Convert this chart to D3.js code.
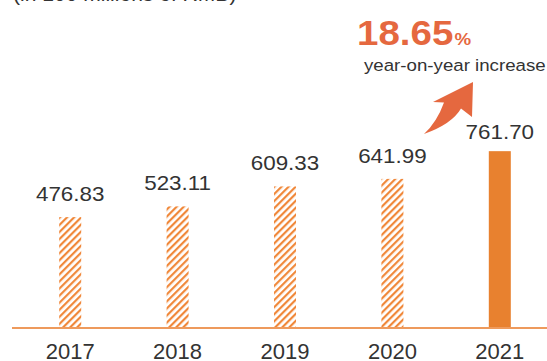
<!DOCTYPE html>
<html>
<head>
<meta charset="utf-8">
<script src="https://cdn.jsdelivr.net/npm/d3@7"></script>
<style>
  html, body { margin: 0; padding: 0; background: #fff; }
  svg { display: block; font-family: "Liberation Sans", Arial, Helvetica, sans-serif; }
</style>
</head>
<body>
<svg id="chart" width="547" height="361"></svg>
<script>
// Revenue by year (in 100 millions of RMB)
const years = ["2017", "2018", "2019", "2020", "2021"];
const values = [476.83, 523.11, 609.33, 641.99, 761.70];
const valueLabels = ["476.83", "523.11", "609.33", "641.99", "761.70"];
const highlightYear = "2021";
const growthPct = "18.65";
const growthText = "year-on-year increase";
const unitTitle = "(in 100 millions of RMB)";

const W = 547, H = 361;
const baseY = 327.5;
const orange = "#e8812f";
const hatchColor = "#f0883a";
const accent = "#e5683f";
const textColor = "#333333";

const svg = d3.select("#chart");

// diagonal hatch for the earlier years
const defs = svg.append("defs");
const pat = defs.append("pattern")
  .attr("id", "hatch")
  .attr("patternUnits", "userSpaceOnUse")
  .attr("width", 5).attr("height", 5)
  .attr("patternTransform", "rotate(45)");
pat.append("rect").attr("width", 5).attr("height", 5).attr("fill", "#fff");
pat.append("rect").attr("x", 0).attr("y", 0).attr("width", 2.2).attr("height", 5).attr("fill", hatchColor);

const x = d3.scaleBand().domain(years).range([16.5, 553.5]).padding(0);
const y = d3.scaleLinear().domain([0, 800]).range([baseY, baseY - 800 * 0.2315]);
const barW = 22;

// text helper: slightly widened glyphs
function label(sel, tx, ty, sx) {
  return sel.attr("transform", `translate(${tx},${ty}) scale(${sx},1)`);
}

// unit title (partly above the top edge)
label(svg.append("text"), 13, 0.5, 1.08)
  .attr("font-size", 19.5).attr("fill", textColor)
  .text(unitTitle);

// bars
svg.selectAll("rect.bar")
  .data(years)
  .join("rect")
  .attr("class", "bar")
  .attr("x", d => x(d) + x.bandwidth() / 2 - barW / 2)
  .attr("width", barW)
  .attr("y", (d, i) => y(values[i]))
  .attr("height", (d, i) => baseY - y(values[i]))
  .attr("fill", d => d === highlightYear ? orange : "url(#hatch)");

// baseline
svg.append("line")
  .attr("x1", 12).attr("x2", W)
  .attr("y1", baseY + 0.5).attr("y2", baseY + 0.5)
  .attr("stroke", "#ee9a5c").attr("stroke-width", 2);

// value labels
svg.selectAll("text.val")
  .data(years)
  .join("text")
  .attr("class", "val")
  .attr("text-anchor", "middle")
  .attr("font-size", 20)
  .attr("fill", textColor)
  .attr("transform", (d, i) => {
    const off = d === highlightYear ? 12 : 16;
    return `translate(${x(d) + x.bandwidth() / 2},${y(values[i]) - off}) scale(1.12,1)`;
  })
  .text((d, i) => valueLabels[i]);

// year labels
svg.selectAll("text.year")
  .data(years)
  .join("text")
  .attr("class", "year")
  .attr("text-anchor", "middle")
  .attr("font-size", 22)
  .attr("fill", textColor)
  .attr("x", d => x(d) + x.bandwidth() / 2)
  .attr("y", 358.5)
  .text(d => d);

// growth callout
const g = label(svg.append("text"), 357, 45, 1.1)
  .attr("font-weight", "bold").attr("fill", accent);
g.append("tspan").attr("font-size", 35).text(growthPct);
g.append("tspan").attr("font-size", 17).attr("dx", 1).text("%");

label(svg.append("text"), 364, 70.7, 1.08)
  .attr("font-size", 17.3).attr("fill", textColor)
  .text(growthText);

// curved arrow
const p = d3.path();
p.moveTo(473, 82);
p.lineTo(433, 102);
p.lineTo(444, 102.5);
p.quadraticCurveTo(437, 122, 424, 134);
p.quadraticCurveTo(452, 124, 461, 108.5);
p.lineTo(472, 117);
p.closePath();
svg.append("path").attr("d", p.toString()).attr("fill", accent);
</script>
</body>
</html>
